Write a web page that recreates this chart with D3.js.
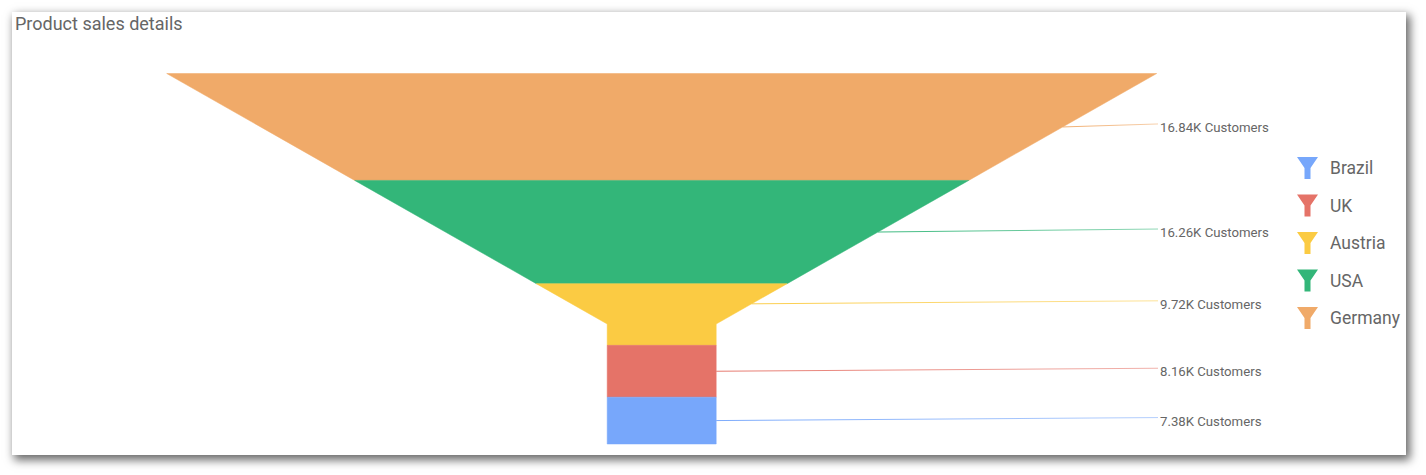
<!DOCTYPE html>
<html><head><meta charset="utf-8">
<script src="https://cdn.jsdelivr.net/npm/d3@7"></script>
<style>
html,body{margin:0;padding:0;background:#fff;width:1426px;height:475px;overflow:hidden;font-family:Roboto,"Noto Sans",sans-serif;}
#card{position:absolute;left:12px;top:12px;width:1394px;height:443px;background:#fff;box-shadow:3px 4px 9px 1px rgba(0,0,0,0.6);}
svg{position:absolute;left:0;top:0;}
</style></head>
<body>
<div id="card"></div>
<svg id="chart" width="1426" height="475"></svg>
<script>
const countries = ["Brazil","UK","Austria","USA","Germany"];
const customers = [7.38, 8.16, 9.72, 16.26, 16.84];
const colors = ["#77a7fb","#e57368","#fbcb43","#33b679","#f0aa69"];
const labelSuffix = "K Customers";
const title = "Product sales details";

(function(){
const svg = d3.select("#chart");
const cx = 661.7, yTop = 73.5, yBottom = 444, topW = 990, neckW = 109, neckY = 324;
const labelX = 1158;

const items = countries.map((c,i)=>({c, v:customers[i], col:colors[i]})).reverse();
const total = d3.sum(items, d=>d.v);
const y = d3.scaleLinear().domain([0,total]).range([yTop,yBottom]);
const w = d3.scaleLinear().domain([yTop,neckY]).range([topW,neckW]).clamp(true);

let acc = 0;
items.forEach(d=>{ d.y0 = y(acc); acc += d.v; d.y1 = y(acc); });

function segPath(d){
  const pts = [];
  const ys = [d.y0];
  if (d.y0 < neckY && d.y1 > neckY) ys.push(neckY);
  ys.push(d.y1);
  ys.forEach(yy=>pts.push([cx + w(yy)/2, yy]));
  ys.slice().reverse().forEach(yy=>pts.push([cx - w(yy)/2, yy]));
  return d3.line()(pts) + "Z";
}

svg.append("g").selectAll("path").data(items).join("path")
  .attr("d", segPath).attr("fill", d=>d.col)
  .attr("stroke", d=>d.col).attr("stroke-width",0.5);

const defs = svg.append("defs");
items.forEach((d,i)=>{
  d.ay = (d.y0 < neckY && d.y1 > neckY) ? (d.y0+neckY)/2 : (d.y0+d.y1)/2;
  d.ax = cx + w(d.ay)/2;
  const g = defs.append("linearGradient").attr("id","lg"+i).attr("gradientUnits","userSpaceOnUse")
    .attr("x1",d.ax).attr("x2",labelX).attr("y1",0).attr("y2",0);
  g.append("stop").attr("offset","0%").attr("stop-color",d.col).attr("stop-opacity",0.95);
  g.append("stop").attr("offset","100%").attr("stop-color",d.col).attr("stop-opacity",0.55);
});

const lab = svg.append("g").selectAll("g").data(items).join("g");
lab.append("path").attr("d",(d,i)=>`M${d.ax},${d.ay}L${labelX},${d.ay-3}`)
  .attr("stroke",(d,i)=>`url(#lg${i})`).attr("stroke-width",1).attr("fill","none");
lab.append("text").attr("x",labelX+2).attr("y",d=>d.ay+0.5).attr("dy","0.36em")
  .attr("font-size","13.2px").attr("fill","#666666").text(d=>d.v.toFixed(2)+labelSuffix);

svg.append("text").attr("x",15).attr("y",30).attr("font-size","18px").attr("fill","#666666").text(title);

const legY = d3.scalePoint().domain(countries).range([168,318]);
const leg = svg.append("g").selectAll("g").data(countries).join("g")
  .attr("transform", c=>`translate(1307.5,${legY(c)})`);
leg.append("path").attr("d","M-10.5,-11L10.5,-11L3,0L3,11L-3,11L-3,0Z")
  .attr("fill",(c,i)=>colors[i]);
leg.append("text").attr("x",22.5).attr("y",0).attr("dy","0.36em").attr("font-size","17.5px")
  .attr("fill","#666666").text(c=>c);
})();
</script>
</body></html>
